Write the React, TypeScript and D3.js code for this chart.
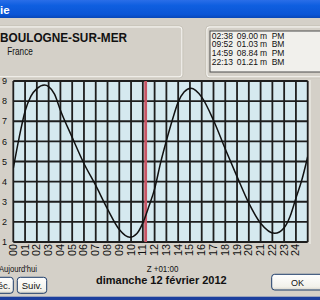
import React from "react";
import * as d3 from "d3";

// Tide extremes table (from the list box)
const tideTimes = ["02:38", "09:52", "14:59", "22:13"];
const tideHeights = ["09.00", "01.03", "08.84", "01.21"];
const tideTypes = ["PM", "BM", "PM", "BM"];

// Curve (hour, height in m)
const curveHours = [0, 0.5, 1, 1.5, 2, 2.65, 3, 3.5, 4, 5, 6, 7, 8, 9, 9.9, 10.5, 11, 11.5, 12, 12.5, 13, 13.5, 14, 14.5, 15.08, 16, 17, 18, 19, 20, 21, 22.2, 23, 23.5, 24, 24.5, 25];
const curveHeights = [4.66, 6.2, 7.5, 8.25, 8.62, 8.8, 8.72, 8.35, 7.55, 6.2, 4.9, 3.81, 2.64, 1.62, 1.23, 1.42, 1.95, 2.75, 3.64, 4.92, 6.03, 7.05, 7.95, 8.45, 8.64, 8.2, 7.05, 5.62, 4.25, 2.93, 1.93, 1.43, 1.71, 2.27, 3.18, 4.08, 5.24];

const hourTicks = d3.range(0, 25);
const levelTicks = [9, 8, 7, 6, 5, 4, 3, 2, 1];
const nowHour = 11.24;

const FONT = "'Liberation Sans', Arial, sans-serif";

export default function App() {
  const x = d3.scaleLinear().domain([0, 25]).range([13.3, 307.7]);
  const y = d3.scaleLinear().domain([1, 9]).range([242, 81]);
  const line = d3
    .line<number>()
    .x((_, i) => x(curveHours[i]))
    .y((d) => y(d))
    .curve(d3.curveMonotoneX);
  const fmt = d3.format("02d");
  const tideBaselines = [38.5, 47.3, 56.1, 64.9];

  return (
    <svg
      width={320}
      height={300}
      style={{ position: "absolute", left: 0, top: 0, fontFamily: FONT }}
    >
      <defs>
        <linearGradient id="tb" x1="0" y1="0" x2="0" y2="1">
          <stop offset="0" stopColor="#2a6ee8" />
          <stop offset="0.3" stopColor="#0f5fe0" />
          <stop offset="0.8" stopColor="#0a55d6" />
          <stop offset="1" stopColor="#0847b8" />
        </linearGradient>
        <linearGradient id="btn" x1="0" y1="0" x2="0" y2="1">
          <stop offset="0" stopColor="#ffffff" />
          <stop offset="0.8" stopColor="#f2f1ea" />
          <stop offset="1" stopColor="#d8d4c8" />
        </linearGradient>
        <clipPath id="plotclip">
          <rect x={x(0)} y={y(9)} width={x(25) - x(0)} height={y(1) - y(9)} />
        </clipPath>
      </defs>
      {/* window background */}
      <rect x={0} y={0} width={320} height={300} fill="#d4d0c8" />
      {/* title bar */}
      <rect x={0} y={0} width={320} height={18} fill="url(#tb)" />
      <text x={0} y={14} fill="#ffffff" fontWeight="bold" fontSize={11.5}>
        ie
      </text>

      {/* left group box */}
      <rect x={-6} y={26.7} width={188} height={50.3} rx={3} fill="none" stroke="#f7f6f2" strokeWidth={1.4} />
      <rect x={-6.8} y={25.9} width={189.6} height={51.9} rx={3.5} fill="none" stroke="#b8b4a8" strokeWidth={0.6} />
      <text x={0} y={42} fontSize={13.5} fontWeight="bold" fill="#111" textLength={127} lengthAdjust="spacingAndGlyphs">
        BOULOGNE-SUR-MER
      </text>
      <text x={7.3} y={55} fontSize={11} fill="#111" textLength={25.5} lengthAdjust="spacingAndGlyphs">
        France
      </text>

      {/* right group box */}
      <rect x={206.7} y={26.7} width={120} height={50.3} rx={3} fill="none" stroke="#f7f6f2" strokeWidth={1.4} />
      <rect x={205.9} y={25.9} width={122} height={51.9} rx={3.5} fill="none" stroke="#b8b4a8" strokeWidth={0.6} />
      <rect x={210} y={31} width={120} height={41} fill="#f1f0ec" stroke="#4a4a4a" strokeWidth={1} />
      {tideTimes.map((t, i) => (
        <g key={t} fontSize={8.5} fill="#111">
          <text x={211.7} y={tideBaselines[i]}>{t}</text>
          <text x={236.7} y={tideBaselines[i]}>{tideHeights[i]}</text>
          <text x={260} y={tideBaselines[i]}>m</text>
          <text x={271.7} y={tideBaselines[i]}>{tideTypes[i]}</text>
        </g>
      ))}

      {/* plot */}
      <rect x={x(0)} y={y(9)} width={x(25) - x(0)} height={y(1) - y(9)} fill="#d5e9ef" />
      {d3.range(0, 26).map((h) => (
        <line key={"v" + h} x1={x(h)} x2={x(h)} y1={y(9)} y2={y(1)} stroke="#1e1e1e" strokeWidth={1.8} />
      ))}
      {levelTicks.map((v) => (
        <line key={"h" + v} x1={x(0)} x2={x(25)} y1={y(v)} y2={y(v)} stroke="#1e1e1e" strokeWidth={1.8} />
      ))}
      <line x1={x(nowHour)} x2={x(nowHour)} y1={y(9)} y2={y(1)} stroke="#c95565" strokeWidth={2.8} />
      <path d={line(curveHeights) || ""} fill="none" stroke="#111" strokeWidth={1.5} clipPath="url(#plotclip)" />
      <line x1={310} x2={310} y1={80} y2={244} stroke="#f4f3ee" strokeWidth={1} />

      {/* y labels */}
      {levelTicks.map((v) => (
        <text key={"yl" + v} x={7} y={y(v)} dy="0.35em" textAnchor="end" fontSize={9} fill="#111">
          {v}
        </text>
      ))}
      {/* x labels */}
      {hourTicks.map((h) => (
        <text
          key={"xl" + h}
          transform={`translate(${x(h)},244) rotate(-90)`}
          textAnchor="end"
          dy="0.35em"
          fontSize={10}
          fill="#111"
          textLength={12}
          lengthAdjust="spacingAndGlyphs"
        >
          {fmt(h)}
        </text>
      ))}

      {/* bottom texts */}
      <text x={-1} y={271.7} fontSize={9} fill="#111" textLength={38} lengthAdjust="spacingAndGlyphs">
        Aujourd'hui
      </text>
      <text x={146.7} y={271.7} fontSize={9} fill="#111" textLength={31.7} lengthAdjust="spacingAndGlyphs">
        Z +01:00
      </text>
      <text x={96} y={284} fontSize={11} fontWeight="bold" fill="#111" textLength={130.7} lengthAdjust="spacingAndGlyphs">
        dimanche 12 février 2012
      </text>

      {/* buttons */}
      <rect x={-25} y={277.3} width={38.3} height={16} rx={3} fill="url(#btn)" stroke="#1d3c6a" strokeWidth={1} />
      <text x={10.5} y={288.5} textAnchor="end" fontSize={9.5} fill="#111">Préc.</text>
      <rect x={17.3} y={277.3} width={29.4} height={16} rx={3} fill="url(#btn)" stroke="#1d3c6a" strokeWidth={1} />
      <text x={32} y={288.5} textAnchor="middle" fontSize={9.5} fill="#111">Suiv.</text>
      <rect x={271.7} y={274.3} width={60} height={15.7} rx={3} fill="url(#btn)" stroke="#1d3c6a" strokeWidth={1} />
      <text x={297.5} y={285.5} textAnchor="middle" fontSize={9} fill="#111">OK</text>

      {/* bottom frame */}
      <rect x={0} y={296.7} width={320} height={3.3} fill="#1c3f9e" />
    </svg>
  );
}
